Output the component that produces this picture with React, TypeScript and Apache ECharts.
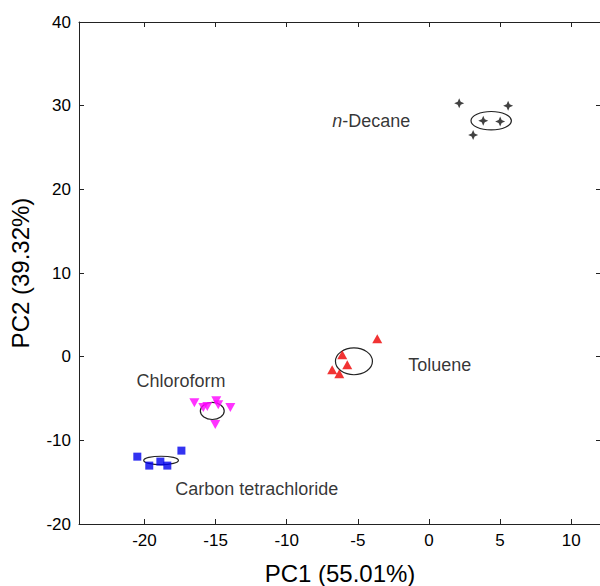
import React, { useEffect, useRef } from "react";
import * as echarts from "echarts";

// PC1, PC2 scores
const decane = [[2.13, 30.3], [5.57, 30.0], [3.11, 26.5], [3.82, 28.2], [5.01, 28.1]];
const toluene = [[-3.63, 2.15], [-6.09, 0.24], [-5.74, -0.96], [-6.8, -1.55], [-6.3, -2.03]];
const chloroform = [[-16.49, -5.5], [-15.86, -6.09], [-15.58, -5.97], [-14.95, -5.26], [-14.81, -5.74], [-13.96, -6.09], [-15.02, -8.12]];
const carbonTet = [[-20.5, -11.95], [-19.66, -13.02], [-18.88, -12.54], [-18.39, -13.02], [-17.4, -11.23]];

// confidence ellipses: [centerX, centerY, radiusX, radiusY]
const ellipses = [[4.38, 28.2, 1.42, 1.1], [-5.27, -0.56, 1.3, 1.6], [-15.23, -6.49, 0.84, 1.02], [-18.83, -12.4, 1.22, 0.5]];

// group labels
const labelNames = ["n-Decane", "Toluene", "Chloroform", "Carbon tetrachloride"];
const labelPos = [[-6.8, 28.2], [-1.45, -0.96], [-20.56, -2.87], [-17.83, -15.77]];

const xTicks = [-20, -15, -10, -5, 0, 5, 10];
const xMin = -24.6;
const xMax = 12.1;
const yMin = -20;
const yMax = 40;
const yInterval = 10;

const FONT = "'Liberation Sans', Arial, sans-serif";
const STAR = "path://M0,-10 L3,-3 L10,0 L3,3 L0,10 L-3,3 L-10,0 L-3,-3 Z";

export default function App() {
  const ref = useRef<HTMLDivElement>(null);
  useEffect(() => {
    const chart = echarts.init(ref.current!, null, { renderer: "svg" });
    const lineStyle = { color: "#222", width: 1 };
    const option: any = {
      animation: false,
      backgroundColor: "#fff",
      textStyle: { fontFamily: FONT },
      grid: { left: 79, top: 22, right: -1, bottom: 62, outerBoundsMode: "none", containLabel: false },
      xAxis: [
        {
          type: "value", position: "bottom", min: xMin, max: xMax,
          axisLine: { onZero: false, lineStyle },
          axisTick: { inside: true, length: 5, lineStyle, customValues: xTicks },
          axisLabel: { customValues: xTicks, color: "#000", fontSize: 17, margin: 8, fontFamily: FONT },
          splitLine: { show: false },
          name: "PC1 (55.01%)", nameLocation: "middle", nameGap: 37,
          nameTextStyle: { fontSize: 24, color: "#000", fontFamily: FONT },
        },
        {
          type: "value", position: "top", min: xMin, max: xMax,
          axisLine: { onZero: false, lineStyle },
          axisTick: { inside: true, length: 5, lineStyle, customValues: xTicks },
          axisLabel: { show: false },
          splitLine: { show: false },
        },
      ],
      yAxis: [
        {
          type: "value", position: "left", min: yMin, max: yMax, interval: yInterval,
          axisLine: { onZero: false, lineStyle },
          axisTick: { inside: true, length: 5, lineStyle },
          axisLabel: { color: "#000", fontSize: 17, margin: 8, fontFamily: FONT },
          splitLine: { show: false },
          name: "PC2 (39.32%)", nameLocation: "middle", nameGap: 47,
          nameTextStyle: { fontSize: 24, color: "#000", fontFamily: FONT },
        },
        {
          type: "value", position: "right", min: yMin, max: yMax, interval: yInterval,
          axisLine: { onZero: false, lineStyle },
          axisTick: { inside: true, length: 5, lineStyle },
          axisLabel: { show: false },
          splitLine: { show: false },
        },
      ],
      series: [
        {
          type: "custom",
          xAxisIndex: 0, yAxisIndex: 0,
          z: 1,
          encode: { x: 0, y: 1 },
          data: ellipses,
          renderItem: (params: any, api: any) => {
            const c = api.coord([api.value(0), api.value(1)]);
            const s = api.size([api.value(2), api.value(3)]);
            return {
              type: "ellipse",
              shape: { cx: c[0], cy: c[1], rx: s[0], ry: s[1] },
              style: { fill: "none", stroke: "#222", lineWidth: 1.2 },
            };
          },
        },
        {
          type: "scatter", name: "n-Decane", data: decane, symbol: STAR, symbolSize: 10,
          itemStyle: { color: "#111" }, z: 3,
        },
        {
          type: "scatter", name: "Toluene", data: toluene, symbol: "triangle", symbolSize: [10, 9],
          itemStyle: { color: "#ee0000" }, z: 3,
        },
        {
          type: "scatter", name: "Chloroform", data: chloroform, symbol: "triangle", symbolRotate: 180,
          symbolSize: [10, 9], itemStyle: { color: "#ff00ff" }, z: 3,
        },
        {
          type: "scatter", name: "Carbon tetrachloride", data: carbonTet, symbol: "rect", symbolSize: 8,
          itemStyle: { color: "#0000ee" }, z: 3,
        },
        {
          type: "scatter", name: "labels", symbolSize: 0, silent: true, z: 4,
          data: labelPos.map((p, i) => ({ value: p, name: labelNames[i] })),
          label: {
            show: true, position: "right", distance: 0, color: "#000", fontSize: 18, fontFamily: FONT,
            formatter: (p: any) => (p.name === "n-Decane" ? "{i|n}-Decane" : p.name),
            rich: { i: { fontStyle: "italic", fontSize: 18, color: "#000", fontFamily: FONT } },
          },
        },
      ],
    };
    chart.setOption(option);
    return () => chart.dispose();
  }, []);
  return (
    <div
      ref={ref}
      style={{ position: "fixed", left: 0, top: 0, width: 600, height: 586, background: "#fff" }}
    />
  );
}
